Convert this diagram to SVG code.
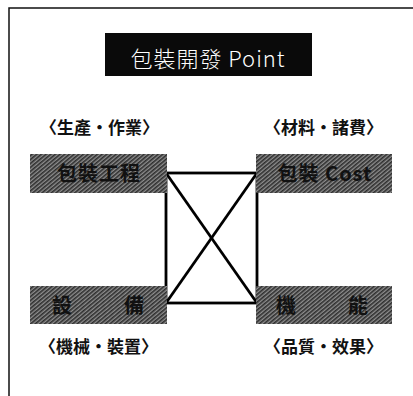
<svg xmlns="http://www.w3.org/2000/svg" width="413" height="396" viewBox="0 0 413 396">
<style>
.frame{stroke:#111;stroke-width:1.5;fill:none}
.lbl{font-family:"Noto Sans CJK TC","Noto Sans CJK SC",sans-serif;font-size:17px;font-weight:bold;fill:#111}
.box{fill:url(#hatch)}
.btxt{font-family:"Noto Sans CJK TC","Noto Sans CJK SC",sans-serif;font-size:20px;font-weight:bold;fill:#111;text-anchor:middle}
.conn{stroke:#000;stroke-width:2.8;fill:none}
</style>
<defs>
<pattern id="hatch" patternUnits="userSpaceOnUse" width="3" height="3" patternTransform="rotate(-40)">
<rect width="3" height="3" fill="#8e8e8e"/>
<rect width="3" height="1.6" fill="#2e2e2e"/>
</pattern>
</defs>
<rect width="413" height="396" fill="#fff"/>
<path class="frame" d="M9 396 V8 H413"/>
<g id="title">
<rect x="105" y="33" width="207" height="43" fill="#0a0a0a"/>
<text x="208" y="67" text-anchor="middle" font-family="'Noto Sans CJK TC','Noto Sans CJK SC',sans-serif" font-size="22" font-weight="300" letter-spacing="1" fill="#fff">包裝開發 Point</text>
</g>
<g id="connectors">
<rect class="conn" x="166" y="173" width="91" height="130"/>
<line class="conn" x1="166" y1="173" x2="257" y2="303"/>
<line class="conn" x1="257" y1="173" x2="166" y2="303"/>
</g>
<g id="n-process">
<text class="lbl" x="40" y="134">〈生產・作業〉</text>
<rect class="box" x="30" y="154" width="137" height="39"/>
<text class="btxt" x="99" y="181" letter-spacing="1">包裝工程</text>
</g>
<g id="n-cost">
<text class="lbl" x="264" y="134">〈材料・諸費〉</text>
<rect class="box" x="256" y="154" width="136" height="39"/>
<text class="btxt" x="325" y="181" letter-spacing="1">包裝 Cost</text>
</g>
<g id="n-equip">
<rect class="box" x="30" y="286" width="137" height="38"/>
<text class="btxt" x="62" y="313">設</text>
<text class="btxt" x="134" y="313">備</text>
<text class="lbl" x="39" y="353">〈機械・裝置〉</text>
</g>
<g id="n-func">
<rect class="box" x="256" y="286" width="136" height="38"/>
<text class="btxt" x="286" y="313">機</text>
<text class="btxt" x="358" y="313">能</text>
<text class="lbl" x="264" y="353">〈品質・效果〉</text>
</g>
</svg>
